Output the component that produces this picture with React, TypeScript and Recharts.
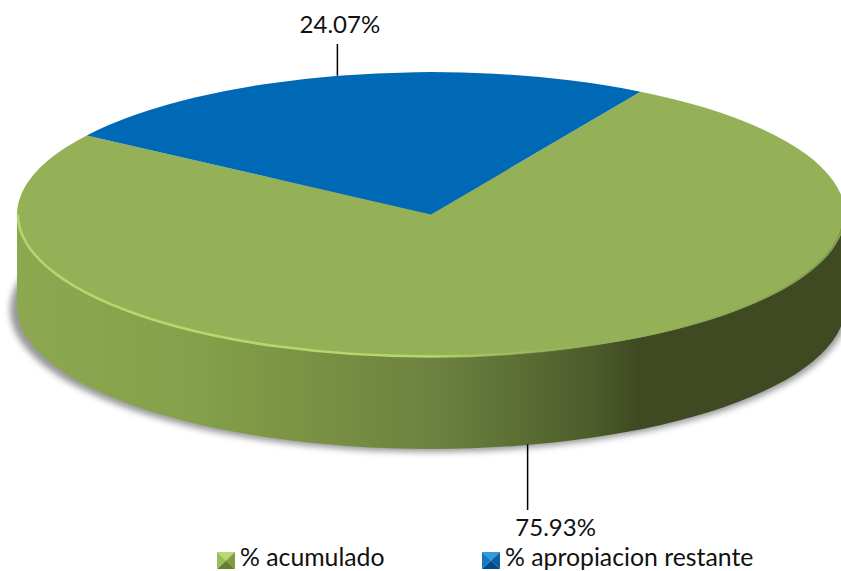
import { PieChart, Pie, Legend } from 'recharts';

const SLICE_NAMES = ['% acumulado', '% apropiacion restante'];
const SLICE_VALUES = [75.93, 24.07];
const SLICE_COLORS = ['#95B158', '#0069B6'];
const SWATCH_SHADES = [
  ['#BAD873', '#7F9C42', '#64802F', '#9CBA56'],
  ['#2F9BE0', '#0A5FA6', '#004A86', '#1478C4'],
];

const FONT = 'Lato, sans-serif';
const SQUASH = 0.344;
const DEPTH = 92;

const chartData = SLICE_NAMES.map((name, i) => ({
  name,
  value: SLICE_VALUES[i],
  fill: SLICE_COLORS[i],
}));

const pt = (cx: number, cy: number, r: number, deg: number) => {
  const a = (deg * Math.PI) / 180;
  return { x: cx + r * Math.cos(a), y: cy - r * SQUASH * Math.sin(a) };
};

// clockwise arc on screen, angles decreasing
const arc = (cx: number, cy: number, r: number, from: number, to: number) => {
  const e = pt(cx, cy, r, to);
  const large = Math.abs(from - to) > 180 ? 1 : 0;
  return `A ${r} ${r * SQUASH} 0 ${large} 1 ${e.x} ${e.y}`;
};

function Slice(props: any) {
  const { cx, cy, outerRadius: r, startAngle, endAngle, fill } = props;
  const s = pt(cx, cy, r, startAngle);
  const top = `M ${cx} ${cy} L ${s.x} ${s.y} ${arc(cx, cy, r, startAngle, endAngle)} Z`;

  // only the front half of the rim has a visible side wall
  const hi = Math.min(startAngle, 0);
  const lo = Math.max(endAngle, -180);
  let wall = null;
  let rim = null;
  if (hi > lo) {
    const a = pt(cx, cy, r, hi);
    const b = pt(cx, cy, r, lo);
    const d = `M ${a.x} ${a.y} ${arc(cx, cy, r, hi, lo)} L ${b.x} ${b.y + DEPTH} A ${r} ${r * SQUASH} 0 0 0 ${a.x} ${a.y + DEPTH} Z`;
    wall = (
      <>
        <ellipse cx={cx - 2} cy={cy + DEPTH + 3} rx={r + 5} ry={r * SQUASH} fill="#555" opacity={0.6} filter="url(#pieShadow)" />
        <path d={d} fill="url(#pieWall)" />
      </>
    );
    const rs = pt(cx, cy, r - 1, lo);
    const re = pt(cx, cy, r - 1, hi);
    rim = (
      <path
        d={`M ${rs.x} ${rs.y} A ${r - 1} ${(r - 1) * SQUASH} 0 0 0 ${re.x} ${re.y}`}
        fill="none"
        stroke="url(#pieRim)"
        strokeWidth={2.5}
      />
    );
  }
  return (
    <g>
      {wall}
      <path d={top} fill={fill} />
      {rim}
    </g>
  );
}

function SliceLabel(props: any) {
  const { cx, cy, outerRadius: r, midAngle, value } = props;
  const p = pt(cx, cy, r, midAngle);
  const front = Math.sin((midAngle * Math.PI) / 180) < 0;
  const x = front ? p.x + 4 : p.x - 1;
  const y1 = front ? p.y + DEPTH - 1 : p.y;
  const y2 = front ? 510 : 44;
  return (
    <g>
      <line x1={x} y1={y1} x2={x} y2={y2} stroke="#000" strokeWidth={1.5} />
      <text x={front ? x + 28 : x + 2.5} y={front ? 536 : 33} textAnchor="middle" fontFamily={FONT} fontSize={24} fill="#111">
        {value.toFixed(2)}%
      </text>
    </g>
  );
}

function PieLegend({ payload }: any) {
  return (
    <div style={{ display: 'flex', fontFamily: FONT, fontSize: 24.8, color: '#111', lineHeight: '22px', whiteSpace: 'nowrap' }}>
      {(payload || []).map((entry: any, i: number) => {
        const [t, r, b, l] = SWATCH_SHADES[i];
        return (
          <div key={entry.value} style={{ display: 'flex', alignItems: 'center', width: i === 0 ? 265 : 300 }}>
            <svg width={18} height={17} style={{ marginRight: 5, position: 'relative', top: 3 }}>
              <polygon points="0,0 18,0 9,8.5" fill={t} />
              <polygon points="18,0 18,17 9,8.5" fill={r} />
              <polygon points="0,17 18,17 9,8.5" fill={b} />
              <polygon points="0,0 0,17 9,8.5" fill={l} />
            </svg>
            <span>{entry.value}</span>
          </div>
        );
      })}
    </div>
  );
}

export default function App() {
  return (
    <div style={{ position: 'absolute', left: 0, top: 0, width: 841, height: 571, overflow: 'hidden', background: '#fff' }}>
      <PieChart width={841} height={571} margin={{ top: 0, right: 0, bottom: 0, left: 0 }}>
        <defs>
          <linearGradient id="pieWall" gradientUnits="userSpaceOnUse" x1={17} y1={0} x2={845} y2={0}>
            <stop offset="0%" stopColor="#8CA850" />
            <stop offset="22%" stopColor="#84A04A" />
            <stop offset="35%" stopColor="#7A9244" />
            <stop offset="50%" stopColor="#6D8240" />
            <stop offset="62%" stopColor="#5A6C33" />
            <stop offset="70%" stopColor="#4A5A2A" />
            <stop offset="75%" stopColor="#3F4A22" />
            <stop offset="100%" stopColor="#3F4A22" />
          </linearGradient>
          <linearGradient id="pieRim" gradientUnits="userSpaceOnUse" x1={17} y1={0} x2={845} y2={0}>
            <stop offset="0%" stopColor="#B4D86C" />
            <stop offset="50%" stopColor="#B4D86C" />
            <stop offset="72%" stopColor="#96B25A" stopOpacity={0} />
            <stop offset="100%" stopColor="#3F4A22" stopOpacity={0.25} />
          </linearGradient>
          <filter id="pieShadow" x="-5%" y="-10%" width="110%" height="120%">
            <feGaussianBlur stdDeviation="3" />
          </filter>
        </defs>
        <Pie
          data={chartData}
          dataKey="value"
          nameKey="name"
          cx={431}
          cy={214.5}
          outerRadius={414}
          startAngle={59.6}
          endAngle={-300.4}
          stroke="none"
          shape={Slice}
          label={SliceLabel}
          labelLine={false}
          isAnimationActive={false}
        />
        <Legend content={PieLegend} wrapperStyle={{ left: 217, top: 546, width: 600 }} />
      </PieChart>
    </div>
  );
}
